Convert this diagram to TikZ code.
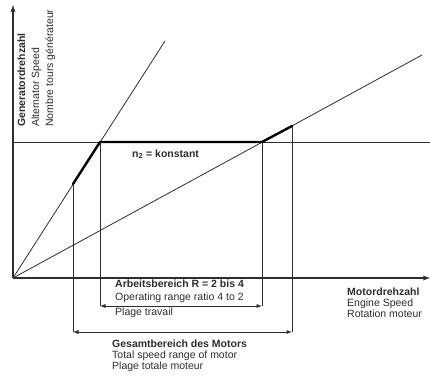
\documentclass[tikz,border=0pt]{standalone}
\usepackage{fontspec}
\setmainfont{Liberation Sans}
\usetikzlibrary{positioning}
\tikzstyle{diagram} = [x = 1pt, y = -1pt]
\definecolor{lineColor}{RGB}{45,45,45}
\tikzstyle{axisLine} = [color=lineColor, line width=1.3pt, -latex]
\tikzstyle{thinLine} = [color=lineColor, line width=.8pt]
\tikzstyle{thickLine} = [color=black, line width=2.4pt, line cap=round, line join=round]
\tikzstyle{rangeLine} = [color=lineColor, line width=.9pt, latex-latex]
\tikzstyle{labelText} = [inner sep=0pt, anchor=base west, text=lineColor, font=\fontsize{10.5}{11}\selectfont]
\tikzstyle{labelBold} = [labelText, font=\fontsize{10.5}{11}\selectfont\bfseries]
\begin{document}
\begin{tikzpicture}[diagram]
  \useasboundingbox (0,0) rectangle (430,378);
  % points of the curves
  \coordinate (origin) at (13,278);
  \coordinate (yEnd) at (13,5);
  \coordinate (xEnd) at (430,278);
  \coordinate (steepEnd) at (165,41);
  \coordinate (flatEnd) at (422,55);
  \coordinate (levelStart) at (13,142);
  \coordinate (levelEnd) at (430,142);
  \coordinate (workLow) at (100,142);
  \coordinate (workHigh) at (262,142);
  \coordinate (totalLow) at (73,184);
  \coordinate (totalHigh) at (292,126);
  % range bars
  \coordinate (workBarLeft) at (100,306);
  \coordinate (workBarRight) at (262,306);
  \coordinate (totalBarLeft) at (73,332);
  \coordinate (totalBarRight) at (292,332);

  \draw [axisLine] (origin) -- (yEnd);
  \draw [axisLine] (origin) -- (xEnd);
  \draw [thinLine] (origin) -- (steepEnd);
  \draw [thinLine] (origin) -- (flatEnd);
  \draw [thinLine] (levelStart) -- (levelEnd);
  \draw [thickLine] (totalLow) -- (workLow) -- (workHigh) -- (totalHigh);

  \draw [thinLine] (workLow) -- (workBarLeft);
  \draw [thinLine] (workHigh) -- (workBarRight);
  \draw [thinLine] (totalLow) -- (totalBarLeft);
  \draw [thinLine] (totalHigh) -- (totalBarRight);
  \draw [rangeLine] (workBarLeft) -- (workBarRight);
  \draw [rangeLine] (totalBarLeft) -- (totalBarRight);

  % labels
  \node [labelBold, rotate=90] (generatorTitle) at (25,127) {Generatordrehzahl};
  \node [labelText, rotate=90] (generatorEn) at (39,127) {Alternator Speed};
  \node [labelText, rotate=90] (generatorFr) at (53,127) {Nombre tours générateur};
  \node [labelBold] (levelText) at (132,157) {n\textsubscript{2} = konstant};

  \node [labelBold] (workTitle) at (115,287) {Arbeitsbereich R = 2 bis 4};
  \node [labelText] (workEn) at (115,300) {Operating range ratio 4 to 2};
  \node [labelText] (workFr) at (115,315) {Plage travail};

  \node [labelBold] (engineTitle) at (347,295) {Motordrehzahl};
  \node [labelText] (engineEn) at (347,306) {Engine Speed};
  \node [labelText] (engineFr) at (347,317) {Rotation moteur};

  \node [labelBold] (totalTitle) at (112,347) {Gesamtbereich des Motors};
  \node [labelText] (totalEn) at (112,358) {Total speed range of motor};
  \node [labelText] (totalFr) at (112,369) {Plage totale moteur};
\end{tikzpicture}
\end{document}
